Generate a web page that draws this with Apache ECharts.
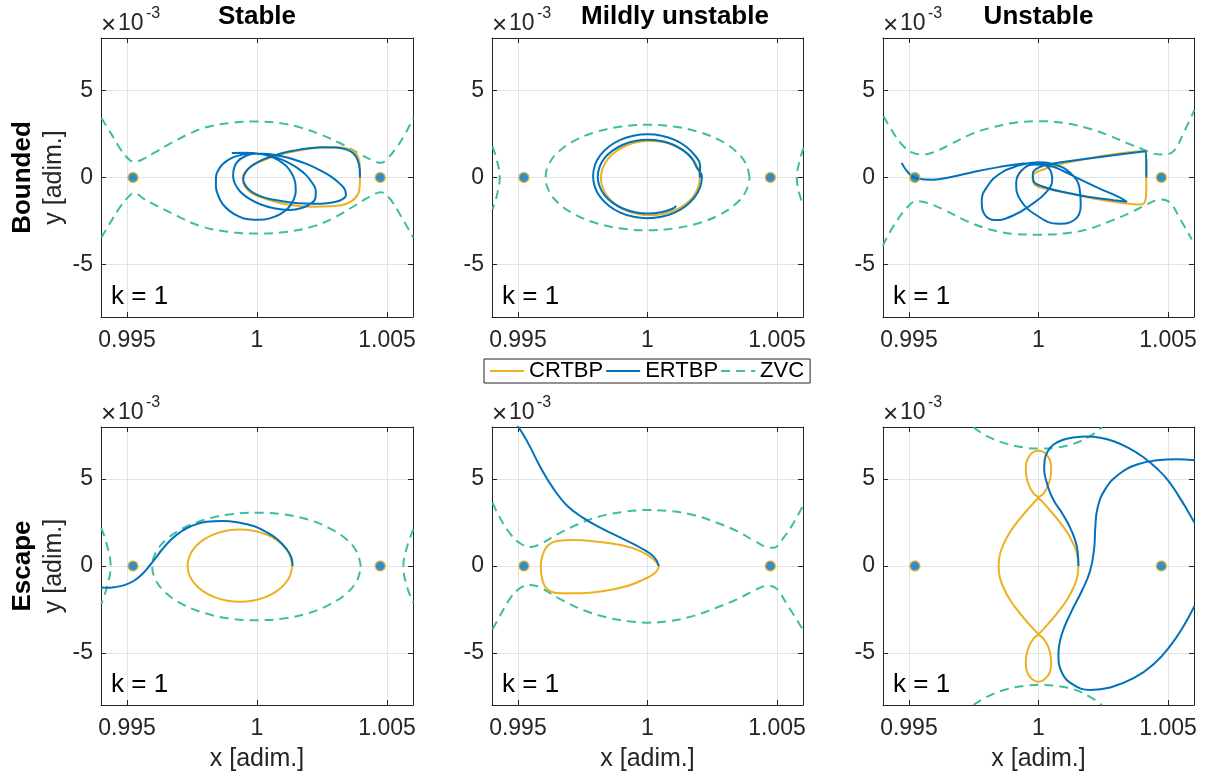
<!DOCTYPE html>
<html>
<head>
<meta charset="utf-8">
<script src="https://cdn.jsdelivr.net/npm/echarts@6/dist/echarts.min.js"></script>
<style>
  html, body { margin: 0; padding: 0; background: #ffffff; }
  #chart { width: 1212px; height: 780px; }
</style>
</head>
<body>
<div id="chart"></div>
<script>
// Axis ticks and labels (y values are in units of 1e-3)
const xTickValues = [0.995, 1, 1.005];
const xTickLabels = ['0.995', '1', '1.005'];
const yTickValues = [-5, 0, 5];
const yTickLabels = ['-5', '0', '5'];
const columnTitles = ['Stable', 'Mildly unstable', 'Unstable'];
const rowTitles = ['Bounded', 'Escape'];
const seriesNames = ['CRTBP', 'ERTBP', 'ZVC'];
const kLabel = 'k = 1';
const lagrangePoints = [[0.99523, 0], [1.00474, 0]];

// ---- Bounded / Stable ----
const boundedStableCrtbp = [[1.00396,0],[1.00394,0.84],[1.00379,1.41],[1.00347,1.66],[1.00296,1.74],[1.00232,1.70],[1.00168,1.56],[1.00104,1.37],[1.0004,1.07],[0.99988,0.74],[0.99956,0.36],[0.99945,-0.02],[0.99953,-0.50],[0.99982,-0.92],[1.0004,-1.26],[1.00117,-1.55],[1.00206,-1.68],[1.00296,-1.64],[1.00347,-1.49],[1.00379,-1.16],[1.00394,-0.69],[1.00396,0]];
const boundedStableErtbp = [[1.00396,0],[1.00395,0.5],[1.00388,0.95],[1.00373,1.35],[1.00345,1.6],[1.00305,1.72],[1.00255,1.74],[1.002,1.68],[1.00145,1.55],[1.00092,1.38],[1.00045,1.16],[1.00005,0.9],[0.99974,0.6],[0.99955,0.27],[0.99947,-0.1],[0.99955,-0.45],[0.99978,-0.8],[1.00015,-1.08],[1.00065,-1.28],[1.00125,-1.42],[1.00185,-1.49],[1.00245,-1.50],[1.00295,-1.42],[1.00328,-1.25],[1.00342,-1.0],[1.00338,-0.7],[1.00318,-0.35],[1.00285,0.05],[1.00245,0.4],[1.00195,0.75],[1.00145,1.02],[1.00095,1.22],[1.00045,1.35],[0.99995,1.38],
  [0.99955,1.22],[0.99927,0.95],[0.99912,0.55],[0.99908,0.1],[0.99915,-0.35],[0.99935,-0.8],[0.99968,-1.2],[1.00015,-1.55],[1.0007,-1.78],[1.00125,-1.86],[1.00172,-1.75],[1.00207,-1.5],[1.00225,-1.15],[1.00226,-0.75],[1.00212,-0.3],[1.00188,0.15],[1.00155,0.55],[1.00115,0.9],[1.0007,1.17],[1.00022,1.33],[0.99975,1.38],
  [0.99935,1.28],[0.999,1.1],[0.99872,0.82],[0.99852,0.45],[0.99842,0.0],[0.99842,-0.5],[0.9985,-1.0],[0.99866,-1.48],[0.99893,-1.9],[0.99928,-2.22],[0.99968,-2.4],[1.0001,-2.43],[1.00052,-2.33],[1.0009,-2.1],[1.0012,-1.75],[1.0014,-1.3],[1.00149,-0.8],[1.00147,-0.3],[1.00135,0.2],[1.00113,0.65],[1.00082,1.0],[1.00045,1.25],[1.0,1.38],[0.99955,1.42],[0.99903,1.41]];
const boundedStableZvcUpper = [[0.99401,3.42],[0.99437,2.56],[0.99476,1.60],[0.99508,1.03],[0.99527,0.90],[0.99553,0.99],[0.99604,1.41],[0.99655,1.85],[0.99732,2.46],[0.99809,2.90],[0.99912,3.15],[1.0,3.21],[1.00091,3.11],[1.00168,2.86],[1.00245,2.46],[1.00322,1.95],[1.00399,1.32],[1.0045,0.94],[1.00476,0.84],[1.00501,1.07],[1.0054,1.79],[1.00572,2.56],[1.00601,3.42]];
const boundedStableZvcLower = [[0.99401,-3.45],[0.99437,-2.56],[0.99476,-1.64],[0.99508,-1.07],[0.99527,-0.88],[0.99565,-1.22],[0.99617,-1.64],[0.99694,-2.21],[0.99783,-2.79],[0.99886,-3.11],[1.0,-3.21],[1.00117,-3.11],[1.00219,-2.79],[1.00296,-2.31],[1.00373,-1.64],[1.00437,-1.07],[1.00476,-0.84],[1.00508,-1.16],[1.00546,-2.02],[1.00601,-3.45]];

// ---- Bounded / Mildly unstable ----
const boundedMildCrtbp = [[1.00202,0],[1.00195,0.52],[1.00176,1.04],[1.00146,1.48],[1.00107,1.82],[1.0006,2.03],[1.00011,2.10],[0.99962,2.03],[0.99916,1.82],[0.99876,1.48],[0.99846,1.04],[0.99827,0.52],[0.9982,-0.03],[0.99827,-0.58],[0.99846,-1.10],[0.99876,-1.54],[0.99916,-1.88],[0.99962,-2.09],[1.00011,-2.16],[1.0006,-2.09],[1.00107,-1.88],[1.00146,-1.54],[1.00176,-1.10],[1.00195,-0.58],[1.00202,0]];
const boundedMildErtbp = [[1.00202,0],[1.00203,0.70],[1.00182,1.28],[1.00148,1.78],[1.00105,2.16],[1.00054,2.40],[1.0,2.48],[0.99946,2.40],[0.99895,2.16],[0.99852,1.78],[0.99818,1.28],[0.99797,0.70],[0.9979,0.08],[0.99797,-0.55],[0.99818,-1.13],[0.99852,-1.63],[0.99895,-2.01],[0.99946,-2.25],[1.0,-2.33],[1.00054,-2.25],[1.00105,-2.01],[1.00148,-1.63],[1.00182,-1.13],[1.00203,-0.55],[1.0021,0.04],
  [1.00189,0.60],[1.0017,1.11],[1.00139,1.54],[1.00099,1.88],[1.00052,2.09],[1.00002,2.16],[0.99952,2.09],[0.99905,1.88],[0.99865,1.54],[0.99834,1.11],[0.99815,0.60],[0.99808,0.05],[0.99815,-0.50],[0.99834,-1.01],[0.99865,-1.44],[0.99905,-1.78],[0.99952,-1.99],[1.00002,-2.06],[1.00052,-1.99],[1.00099,-1.78],[1.0011,-1.62]];
const boundedMildZvcInner = [[1.00394,0],[1.0038,0.78],[1.00341,1.51],[1.00278,2.14],[1.00197,2.62],[1.00102,2.92],[1.0,3.03],[0.99898,2.92],[0.99803,2.62],[0.99722,2.14],[0.99659,1.51],[0.9962,0.78],[0.99607,0],[0.9962,-0.78],[0.99659,-1.51],[0.99722,-2.14],[0.99803,-2.62],[0.99898,-2.92],[1.0,-3.03],[1.00102,-2.92],[1.00197,-2.62],[1.00278,-2.14],[1.00341,-1.51],[1.0038,-0.78],[1.00394,0]];
const boundedMildZvcLeft = [[0.99402,1.79],[0.99418,1.03],[0.9943,0],[0.99418,-1.07],[0.99402,-1.83]];
const boundedMildZvcRight = [[1.00602,1.70],[1.00585,0.84],[1.00576,0],[1.00585,-0.88],[1.00602,-1.64]];

// ---- Bounded / Unstable ----
const boundedUnstableCrtbp = [[1.00416,0],[1.00416,0.84],[1.00412,1.51],[1.00367,1.47],[1.00238,1.22],[1.00109,0.84],[1.00019,0.46],[0.99977,0.04],[0.99985,-0.40],[1.00032,-0.65],[1.00109,-0.88],[1.00212,-1.20],[1.00315,-1.45],[1.00393,-1.55],[1.00412,-1.35],[1.00416,-0.69],[1.00416,0]];
const boundedUnstableErtbp = [[1.00416,0],[1.00416,0.74],[1.00413,1.51],[1.00341,1.37],[1.00238,1.18],[1.00135,0.97],[1.00058,0.80],[1.00004,0.59],[0.99978,0.23],[0.99981,-0.21],[1.00019,-0.53],[1.00109,-0.88],[1.00212,-1.15],[1.0029,-1.30],[1.00341,-1.39],
  [1.00309,-1.11],[1.00238,-0.65],[1.00161,-0.11],[1.00097,0.36],[1.00039,0.69],[0.99981,0.74],[0.99932,0.36],[0.99914,-0.31],[0.99929,-1.26],[0.99994,-2.18],[1.00077,-2.65],[1.00138,-2.44],[1.00163,-1.60],[1.00158,-0.59],[1.00122,0.27],[1.00064,0.74],[1.0,0.88],
  [0.99916,0.65],[0.99852,0.23],[0.99803,-0.50],[0.99781,-1.35],[0.99792,-2.12],[0.99833,-2.44],[0.99898,-2.21],[0.9997,-1.58],[1.0003,-0.84],[1.00053,-0.11],[1.00039,0.55],[1.0,0.84],[0.99942,0.80],[0.99852,0.61],[0.99749,0.32],[0.99659,0.02],[0.99595,-0.13],[0.9953,-0.06],[0.99498,0.27],[0.99472,0.84]];
const boundedUnstableZvcUpper = [[0.99402,3.51],[0.9944,2.56],[0.99479,1.79],[0.99517,1.41],[0.99556,1.32],[0.99595,1.45],[0.99659,1.89],[0.99736,2.46],[0.99813,2.84],[0.99903,3.13],[1.0,3.23],[1.00097,3.13],[1.00187,2.84],[1.00264,2.46],[1.00341,1.98],[1.00405,1.60],[1.00444,1.37],[1.00483,1.32],[1.00521,1.51],[1.0056,2.56],[1.00602,3.89]];
const boundedUnstableZvcLower = [[0.99399,-3.93],[0.9944,-2.79],[0.99492,-1.74],[0.9953,-1.35],[0.99569,-1.45],[0.99633,-1.83],[0.99723,-2.50],[0.99813,-2.98],[0.99903,-3.23],[1.0,-3.28],[1.00097,-3.21],[1.00187,-2.98],[1.00277,-2.50],[1.00354,-2.02],[1.00418,-1.55],[1.0047,-1.26],[1.00508,-1.45],[1.00547,-2.40],[1.00592,-3.55]];

// ---- Escape / Stable ----
const escapeStableCrtbp = [[1.00135,0],[1.00128,0.56],[1.00108,1.06],[1.00076,1.49],[1.00035,1.82],[0.99986,2.03],[0.99934,2.10],[0.99882,2.03],[0.99834,1.82],[0.99792,1.49],[0.9976,1.06],[0.9974,0.56],[0.99733,0.02],[0.9974,-0.52],[0.9976,-1.02],[0.99792,-1.45],[0.99834,-1.78],[0.99882,-1.99],[0.99934,-2.06],[0.99986,-1.99],[1.00035,-1.78],[1.00076,-1.45],[1.00108,-1.02],[1.00128,-0.52],[1.00135,0]];
const escapeStableErtbp = [[1.00137,0],[1.00132,0.50],[1.00115,0.95],[1.00077,1.55],[1.0003,2.0],[0.99987,2.30],[0.9993,2.50],[0.99868,2.59],[0.99805,2.54],[0.99748,2.30],[0.99705,1.95],[0.99667,1.48],[0.99635,0.95],[0.9961,0.45],[0.99586,0],[0.9956,-0.45],[0.99527,-0.85],[0.9949,-1.10],[0.9945,-1.22],[0.9942,-1.25],[0.99401,-1.22]];
const escapeStableZvcInner = [[1.00399,-0.03],[1.00385,0.78],[1.00345,1.52],[1.0028,2.16],[1.00199,2.66],[1.00102,2.97],[0.99998,3.07],[0.99894,2.97],[0.99798,2.66],[0.99714,2.16],[0.99651,1.52],[0.99611,0.78],[0.99597,-0.03],[0.99611,-0.83],[0.99651,-1.57],[0.99714,-2.21],[0.99798,-2.71],[0.99894,-3.02],[0.99998,-3.12],[1.00102,-3.02],[1.00199,-2.71],[1.0028,-2.21],[1.00345,-1.57],[1.00385,-0.83],[1.00399,-0.03]];
const escapeStableZvcLeft = [[0.99401,2.20],[0.99422,1.25],[0.99437,0],[0.99422,-1.25],[0.99401,-2.20]];
const escapeStableZvcRight = [[1.00601,2.11],[1.00576,1.05],[1.00563,0],[1.00576,-1.15],[1.00601,-2.11]];

// ---- Escape / Mildly unstable ----
const escapeMildCrtbp = [[1.00044,0],[1.00024,0.38],[0.99973,0.86],[0.99896,1.21],[0.99806,1.40],[0.99716,1.49],[0.99652,1.44],[0.99614,1.15],[0.99594,0.57],[0.99588,0],[0.99594,-0.77],[0.99614,-1.34],[0.99665,-1.57],[0.99742,-1.57],[0.99832,-1.44],[0.99922,-1.15],[0.99986,-0.77],[1.00031,-0.38],[1.00044,0]];
const escapeMildErtbp = [[1.00044,0],[1.00024,0.54],[0.99973,1.05],[0.99896,1.63],[0.99819,2.20],[0.99755,2.74],[0.99691,3.45],[0.99639,4.41],[0.99588,5.65],[0.99549,6.80],[0.99517,7.66],[0.99498,8.05]];
const escapeMildZvcUpper = [[0.99402,3.64],[0.99434,2.68],[0.99472,1.82],[0.99511,1.28],[0.99549,1.09],[0.99588,1.28],[0.99652,1.82],[0.99729,2.39],[0.99819,2.87],[0.99909,3.12],[1.0,3.22],[1.00089,3.16],[1.00178,2.93],[1.00268,2.49],[1.00345,2.01],[1.00409,1.48],[1.00461,1.09],[1.00487,1.05],[1.00525,1.63],[1.00564,2.49],[1.00602,3.54]];
const escapeMildZvcLower = [[0.99402,-3.64],[0.99434,-2.78],[0.99472,-1.82],[0.99511,-1.25],[0.99549,-1.09],[0.99588,-1.25],[0.99665,-1.92],[0.99755,-2.55],[0.99845,-2.97],[0.99935,-3.20],[1.0,-3.26],[1.00089,-3.16],[1.00178,-2.87],[1.00268,-2.39],[1.00345,-1.92],[1.00409,-1.44],[1.00461,-1.15],[1.00493,-1.25],[1.00538,-2.20],[1.00596,-3.58]];

// ---- Escape / Unstable ----
const escapeUnstableCrtbp = [[1.00154,0],[1.00149,0.66],[1.00133,1.31],[1.00109,1.97],[1.00077,2.62],[1.0004,3.28],[1.0,3.93],
  [0.9998,4.20],[0.99964,4.60],[0.99954,5.10],[0.99951,5.60],[0.99955,6.05],[0.99968,6.40],[0.99984,6.58],[1.0,6.63],[1.00016,6.58],[1.00032,6.40],[1.00045,6.05],[1.00049,5.60],[1.00046,5.10],[1.00036,4.60],[1.0002,4.20],[1.0,3.93],
  [0.9996,3.28],[0.99923,2.62],[0.99891,1.97],[0.99867,1.31],[0.99851,0.66],[0.99846,0],[0.99851,-0.66],[0.99867,-1.31],[0.99891,-1.97],[0.99923,-2.62],[0.9996,-3.28],[1.0,-3.93],
  [1.0002,-4.20],[1.00036,-4.60],[1.00046,-5.10],[1.00049,-5.60],[1.00045,-6.05],[1.00032,-6.40],[1.00016,-6.60],[1.0,-6.66],[0.99984,-6.60],[0.99968,-6.40],[0.99955,-6.05],[0.99951,-5.60],[0.99954,-5.10],[0.99964,-4.60],[0.9998,-4.20],[1.0,-3.93],
  [1.0004,-3.28],[1.00077,-2.62],[1.00109,-1.97],[1.00133,-1.31],[1.00149,-0.66],[1.00154,0]];
const escapeUnstableErtbpOut = [[1.00154,0],[1.00151,0.86],[1.00138,1.63],[1.00116,2.39],[1.0009,3.07],[1.00064,3.64],[1.00045,4.21],[1.0003,4.89],[1.00022,5.56],[1.00024,6.13],[1.00036,6.61],[1.00058,6.99],[1.0009,7.24],[1.00135,7.39],[1.00187,7.45],[1.00238,7.38],[1.0029,7.18],[1.00347,6.80],[1.00405,6.26],[1.00457,5.61],[1.00502,4.89],[1.00541,4.02],[1.00573,3.24],[1.00602,2.49]];
const escapeUnstableErtbpBack = [[1.00602,-2.30],[1.0056,-3.45],[1.00508,-4.60],[1.00444,-5.65],[1.00367,-6.46],[1.00277,-6.99],[1.00199,-7.13],[1.00135,-6.84],[1.0009,-6.13],[1.00077,-5.08],[1.0009,-3.93],[1.00125,-2.68],[1.00167,-1.44],[1.00199,-0.29],[1.00215,1.05],[1.00219,2.20],[1.00228,3.35],[1.00257,4.41],[1.00309,5.27],[1.0038,5.84],[1.00457,6.09],[1.00534,6.15],[1.00602,6.09]];
const escapeUnstableZvcTop = [[0.99749,7.99],[0.99801,7.47],[0.99878,7.03],[0.99955,6.80],[1.0,6.76],[1.00058,6.80],[1.00135,7.03],[1.00199,7.47],[1.00245,7.99]];
const escapeUnstableZvcBottom = [[0.99749,-8.0],[0.99801,-7.53],[0.99878,-7.09],[0.99955,-6.88],[1.0,-6.84],[1.00058,-6.88],[1.00135,-7.09],[1.00199,-7.53],[1.00245,-8.0]];

// Panels in reading order: top row (Bounded), bottom row (Escape)
const panels = [
  { crtbp: [boundedStableCrtbp], ertbp: [boundedStableErtbp], zvc: [boundedStableZvcUpper, boundedStableZvcLower] },
  { crtbp: [boundedMildCrtbp], ertbp: [boundedMildErtbp], zvc: [boundedMildZvcInner, boundedMildZvcLeft, boundedMildZvcRight] },
  { crtbp: [boundedUnstableCrtbp], ertbp: [boundedUnstableErtbp], zvc: [boundedUnstableZvcUpper, boundedUnstableZvcLower] },
  { crtbp: [escapeStableCrtbp], ertbp: [escapeStableErtbp], zvc: [escapeStableZvcInner, escapeStableZvcLeft, escapeStableZvcRight] },
  { crtbp: [escapeMildCrtbp], ertbp: [escapeMildErtbp], zvc: [escapeMildZvcUpper, escapeMildZvcLower] },
  { crtbp: [escapeUnstableCrtbp], ertbp: [escapeUnstableErtbpOut, escapeUnstableErtbpBack], zvc: [escapeUnstableZvcTop, escapeUnstableZvcBottom] }
];

// ---- Layout and styling ----
const FONT = '"Liberation Sans", Arial, Helvetica, sans-serif';
const INK = '#262626';
const GRIDLINE = '#e3e3e3';
const COLOR = { CRTBP: '#EDB120', ERTBP: '#0072BD', ZVC: '#3BBF9F' };
const colLeft = [101, 492, 883];
const colWidth = [312, 311, 311];
const rowTop = [38, 427];
const rowHeight = [279, 278];
const titleCenter = [257, 675, 1038.5];

const labelFor = (values, labels) => v => {
  const k = values.findIndex(t => Math.abs(t - v) < 1e-9);
  return k < 0 ? '' : labels[k];
};

const grid = [], xAxis = [], yAxis = [], series = [], graphic = [];

panels.forEach((p, i) => {
  const r = Math.floor(i / 3), c = i % 3;
  grid.push({ left: colLeft[c], top: rowTop[r], width: colWidth[c], height: rowHeight[r], containLabel: false });

  const tick = { show: true, inside: true, length: 5, lineStyle: { color: INK, width: 1 } };
  const line = { show: true, onZero: false, lineStyle: { color: INK, width: 1 } };

  const xMain = xAxis.length;
  xAxis.push({
    type: 'value', gridIndex: i, min: 0.994, max: 1.006, position: 'bottom',
    axisLine: line,
    axisTick: Object.assign({ customValues: xTickValues }, tick),
    axisLabel: { show: true, customValues: xTickValues, formatter: labelFor(xTickValues, xTickLabels),
      margin: 12, fontSize: 23, fontFamily: FONT, color: INK },
    splitLine: { show: true, lineStyle: { color: GRIDLINE, width: 1 } }
  });
  xAxis.push({
    type: 'value', gridIndex: i, min: 0.994, max: 1.006, position: 'top',
    axisLine: line,
    axisTick: Object.assign({ customValues: xTickValues }, tick),
    axisLabel: { show: false },
    splitLine: { show: false }
  });

  const yMain = yAxis.length;
  yAxis.push({
    type: 'value', gridIndex: i, min: -8, max: 8, position: 'left',
    axisLine: line,
    axisTick: Object.assign({ customValues: yTickValues }, tick),
    axisLabel: { show: true, customValues: yTickValues, formatter: labelFor(yTickValues, yTickLabels),
      margin: 8, fontSize: 23, fontFamily: FONT, color: INK },
    splitLine: { show: true, lineStyle: { color: GRIDLINE, width: 1 } }
  });
  yAxis.push({
    type: 'value', gridIndex: i, min: -8, max: 8, position: 'right',
    axisLine: line,
    axisTick: Object.assign({ customValues: yTickValues }, tick),
    axisLabel: { show: false },
    splitLine: { show: false }
  });

  const base = { type: 'line', xAxisIndex: xMain, yAxisIndex: yMain, symbol: 'none', showSymbol: false,
    clip: true, silent: true, animation: false };

  p.zvc.forEach(d => series.push(Object.assign({}, base, {
    name: 'ZVC', data: d, smooth: 0.4, z: 2,
    lineStyle: { color: COLOR.ZVC, width: 2, type: [9, 6] }, itemStyle: { color: COLOR.ZVC }
  })));
  p.crtbp.forEach(d => series.push(Object.assign({}, base, {
    name: 'CRTBP', data: d, smooth: 0.45, z: 3,
    lineStyle: { color: COLOR.CRTBP, width: 2 }, itemStyle: { color: COLOR.CRTBP }
  })));
  p.ertbp.forEach(d => series.push(Object.assign({}, base, {
    name: 'ERTBP', data: d, smooth: 0.45, z: 4,
    lineStyle: { color: COLOR.ERTBP, width: 2 }, itemStyle: { color: COLOR.ERTBP }
  })));
  series.push({
    type: 'scatter', name: 'Lagrange points', xAxisIndex: xMain, yAxisIndex: yMain, data: lagrangePoints,
    symbol: 'circle', symbolSize: 10, z: 5, silent: true, animation: false,
    itemStyle: { color: COLOR.ERTBP, borderColor: COLOR.CRTBP, borderWidth: 1.5 }
  });

  const gl = colLeft[c], gt = rowTop[r], gb = rowTop[r] + rowHeight[r];

  // exponent label above each axes box
  graphic.push({ type: 'text', x: gl, y: gt - 12, silent: true,
    style: { text: '\u00d7', font: '26px ' + FONT, fill: INK, textAlign: 'left', textVerticalAlign: 'middle' } });
  graphic.push({ type: 'text', x: gl + 17, y: gt - 14, silent: true,
    style: { text: '10', font: '23px ' + FONT, fill: INK, textAlign: 'left', textVerticalAlign: 'middle' } });
  graphic.push({ type: 'text', x: gl + 45, y: gt - 24, silent: true,
    style: { text: '-3', font: '16px ' + FONT, fill: INK, textAlign: 'left', textVerticalAlign: 'middle' } });

  // k label inside each box
  graphic.push({ type: 'text', x: gl + 10, y: gb - 20, silent: true, z: 10,
    style: { text: kLabel, font: '26px ' + FONT, fill: '#000', textAlign: 'left', textVerticalAlign: 'middle' } });

  if (r === 0) {
    graphic.push({ type: 'text', x: titleCenter[c], y: 17, silent: true,
      style: { text: columnTitles[c], font: 'bold 26px ' + FONT, fill: '#000', textAlign: 'center', textVerticalAlign: 'middle' } });
  }
  if (r === 1) {
    graphic.push({ type: 'text', x: gl + colWidth[c] / 2, y: 759, silent: true,
      style: { text: 'x [adim.]', font: '25px ' + FONT, fill: INK, textAlign: 'center', textVerticalAlign: 'middle' } });
  }
  if (c === 0) {
    const cy = gt + rowHeight[r] / 2;
    graphic.push({ type: 'text', x: 22.5, y: cy, rotation: Math.PI / 2, silent: true,
      style: { text: rowTitles[r], font: 'bold 26px ' + FONT, fill: '#000', textAlign: 'center', textVerticalAlign: 'middle' } });
    graphic.push({ type: 'text', x: 54, y: cy, rotation: Math.PI / 2, silent: true,
      style: { text: 'y [adim.]', font: '25px ' + FONT, fill: INK, textAlign: 'center', textVerticalAlign: 'middle' } });
  }
});

const option = {
  backgroundColor: '#ffffff',
  animation: false,
  grid, xAxis, yAxis, series, graphic,
  legend: {
    data: seriesNames,
    left: 484, top: 359,
    orient: 'horizontal',
    itemWidth: 34, itemHeight: 12, itemGap: 2,
    padding: [1, 6, 1, 5],
    borderColor: INK, borderWidth: 1,
    backgroundColor: '#ffffff',
    selectedMode: false,
    itemStyle: { opacity: 0 },
    textStyle: { fontSize: 22, fontFamily: FONT, color: '#000' }
  }
};

const chart = echarts.init(document.getElementById('chart'), null, { renderer: 'canvas' });
chart.setOption(option);
</script>
</body>
</html>
